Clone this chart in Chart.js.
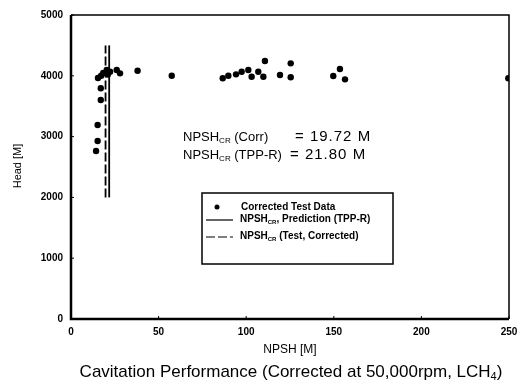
<!DOCTYPE html>
<html>
<head>
<meta charset="utf-8">
<script src="https://cdn.jsdelivr.net/npm/chart.js@4.4.0/dist/chart.umd.min.js"></script>
<style>
  html, body { margin: 0; padding: 0; background: #fff; }
  #wrap { width: 526px; height: 385px; }
</style>
</head>
<body>
<div id="wrap"><canvas id="chart" width="526" height="385"></canvas></div>
<script>
// Datos (NPSH en M, Head en M)
const npshTest = [14.3, 15.2, 15.2, 17.0, 17.0, 15.4, 17.2, 18.4, 20.4, 21.0, 22.3, 26.1, 28.0, 38.0,
                  57.5, 86.6, 89.8, 94.2, 97.4, 101.2, 103.1, 106.9, 109.8, 110.7,
                  119.3, 125.4, 125.4, 149.7, 153.5, 156.4, 249.6];
const headTest = [2763, 2928, 3190, 3602, 3794, 3964, 4000, 4046, 4095, 4020, 4067, 4095, 4040, 4084,
                  4002, 3959, 4000, 4024, 4067, 4095, 3985, 4067, 3985, 4243,
                  4013, 3975, 4205, 3997, 4112, 3942, 3959];

// Lineas verticales NPSHcr
const npshPred = 21.80;   // TPP-R
const npshCorr = 19.72;   // Test, corregido
const lineHeads = [2000, 4500];

const xTicks = [0, 50, 100, 150, 200, 250];
const yTicks = [0, 1000, 2000, 3000, 4000, 5000];

const FONT = 'Arial, "Liberation Sans", sans-serif';

// texto con subindice "CR"
function drawSub(ctx, x, y, parts, size, weight) {
    const w = weight ? weight + ' ' : '';
    let cx = x;
    parts.forEach(p => {
        if (p.sub) {
            ctx.font = w + Math.round(size * 0.62) + 'px ' + FONT;
            ctx.fillText(p.t, cx, y + size * 0.3);
        } else {
            ctx.font = w + size + 'px ' + FONT;
            ctx.fillText(p.t, cx, y);
        }
        cx += ctx.measureText(p.t).width;
    });
}

const decorPlugin = {
    id: 'decor',
    afterDraw(chart) {
        const { ctx, chartArea: a, scales } = chart;
        ctx.save();
        ctx.strokeStyle = '#000';
        ctx.fillStyle = '#000';

        // marco del grafico
        ctx.lineWidth = 1.5;
        ctx.beginPath();
        ctx.moveTo(a.left, a.top); ctx.lineTo(a.right, a.top); ctx.lineTo(a.right, a.bottom);
        ctx.stroke();
        ctx.lineWidth = 2.5;
        ctx.beginPath();
        ctx.moveTo(a.left, a.top); ctx.lineTo(a.left, a.bottom); ctx.lineTo(a.right, a.bottom);
        ctx.stroke();

        // pequenas marcas de ticks hacia adentro
        ctx.lineWidth = 1;
        yTicks.forEach(v => {
            const py = scales.y.getPixelForValue(v);
            ctx.beginPath(); ctx.moveTo(a.left, py); ctx.lineTo(a.left + 3, py); ctx.stroke();
        });
        xTicks.forEach(v => {
            const px = scales.x.getPixelForValue(v);
            ctx.beginPath(); ctx.moveTo(px, a.bottom); ctx.lineTo(px, a.bottom - 3); ctx.stroke();
        });

        // anotaciones
        ctx.textBaseline = 'middle';
        ctx.textAlign = 'left';
        drawSub(ctx, 183, 137, [{t: 'NPSH'}, {t: 'CR', sub: true}, {t: ' (Corr)'}], 13);
        drawSub(ctx, 183, 155, [{t: 'NPSH'}, {t: 'CR', sub: true}, {t: ' (TPP-R)'}], 13);
        ctx.font = '15px ' + FONT;
        ctx.letterSpacing = '1px';
        ctx.fillText('= 19.72 M', 295, 137);
        ctx.fillText('= 21.80 M', 290, 155);
        ctx.letterSpacing = '0px';

        // leyenda
        const lx = 202, ly = 193, lw = 191, lh = 71;
        ctx.fillStyle = '#fff';
        ctx.fillRect(lx, ly, lw, lh);
        ctx.fillStyle = '#000';
        ctx.lineWidth = 1.5;
        ctx.strokeRect(lx, ly, lw, lh);

        ctx.beginPath(); ctx.arc(217, 207, 2.5, 0, Math.PI * 2); ctx.fill();
        ctx.lineWidth = 1.2;
        ctx.beginPath(); ctx.moveTo(206, 220); ctx.lineTo(233, 220); ctx.stroke();
        ctx.setLineDash([9, 3]);
        ctx.beginPath(); ctx.moveTo(206, 237); ctx.lineTo(233, 237); ctx.stroke();
        ctx.setLineDash([]);

        drawSub(ctx, 241, 207, [{t: 'Corrected Test Data'}], 10, 'bold');
        drawSub(ctx, 240, 219, [{t: 'NPSH'}, {t: 'CR', sub: true}, {t: ', Prediction (TPP-R)'}], 10, 'bold');
        drawSub(ctx, 240, 236, [{t: 'NPSH'}, {t: 'CR', sub: true}, {t: ' (Test, Corrected)'}], 10, 'bold');

        // titulos de ejes
        ctx.textAlign = 'center';
        ctx.font = '12px ' + FONT;
        ctx.fillText('NPSH [M]', 290, 350);
        ctx.save();
        ctx.translate(18, 166);
        ctx.rotate(-Math.PI / 2);
        ctx.font = '11px ' + FONT;
        ctx.fillText('Head [M]', 0, 0);
        ctx.restore();

        // pie de figura
        ctx.textAlign = 'left';
        const cap1 = 'Cavitation Performance (Corrected at 50,000rpm, LCH';
        ctx.font = '17px ' + FONT;
        const w1 = ctx.measureText(cap1).width;
        ctx.font = '11px ' + FONT;
        const w2 = ctx.measureText('4').width;
        ctx.font = '17px ' + FONT;
        const w3 = ctx.measureText(')').width;
        let cx = 291 - (w1 + w2 + w3) / 2;
        ctx.fillText(cap1, cx, 372);
        cx += w1;
        ctx.font = '11px ' + FONT;
        ctx.fillText('4', cx, 377);
        cx += w2;
        ctx.font = '17px ' + FONT;
        ctx.fillText(')', cx, 372);

        ctx.restore();
    }
};

const ctx = document.getElementById('chart').getContext('2d');
new Chart(ctx, {
    type: 'scatter',
    data: {
        datasets: [
            {
                label: 'Corrected Test Data',
                data: npshTest.map((x, i) => ({ x: x, y: headTest[i] })),
                backgroundColor: '#000',
                borderColor: '#000',
                pointRadius: 3.2,
                pointBorderWidth: 0
            },
            {
                label: 'NPSHcr, Prediction (TPP-R)',
                type: 'line',
                data: lineHeads.map(h => ({ x: npshPred, y: h })),
                borderColor: '#000',
                borderWidth: 1.8,
                pointRadius: 0,
                fill: false
            },
            {
                label: 'NPSHcr (Test, Corrected)',
                type: 'line',
                data: lineHeads.map(h => ({ x: npshCorr, y: h })),
                borderColor: '#000',
                borderWidth: 1.8,
                borderDash: [9, 3],
                pointRadius: 0,
                fill: false
            }
        ]
    },
    options: {
        responsive: false,
        animation: false,
        devicePixelRatio: 1,
        layout: { padding: { left: 0, right: 17, top: 15, bottom: 0 } },
        plugins: {
            legend: { display: false },
            tooltip: { enabled: false }
        },
        scales: {
            x: {
                type: 'linear',
                min: 0, max: 250,
                afterFit: s => { s.height = 66; },
                afterBuildTicks: s => { s.ticks = xTicks.map(v => ({ value: v })); },
                grid: { display: false, drawTicks: false },
                border: { display: false },
                ticks: { color: '#000', padding: 7, font: { family: FONT, size: 10, weight: 'bold' } }
            },
            y: {
                type: 'linear',
                min: 0, max: 5000,
                afterFit: s => { s.width = 71; },
                afterBuildTicks: s => { s.ticks = yTicks.map(v => ({ value: v })); },
                grid: { display: false, drawTicks: false },
                border: { display: false },
                ticks: { color: '#000', padding: 8, font: { family: FONT, size: 10, weight: 'bold' },
                         callback: v => String(v) }
            }
        }
    },
    plugins: [decorPlugin]
});
</script>
</body>
</html>
